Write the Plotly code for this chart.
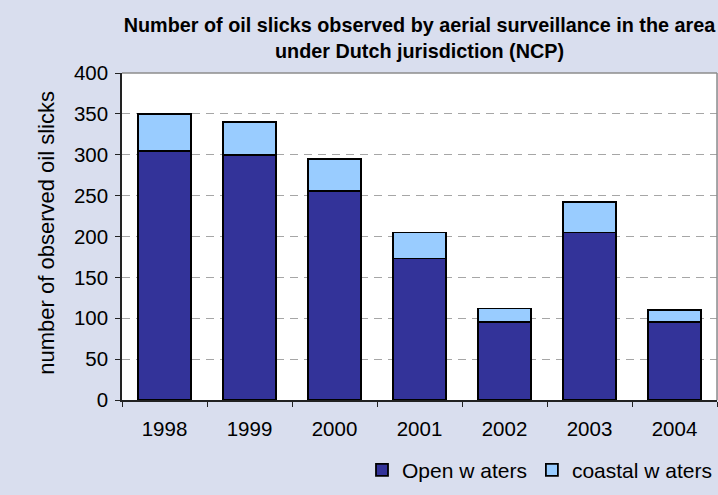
import plotly.graph_objects as go

years = ["1998", "1999", "2000", "2001", "2002", "2003", "2004"]
open_waters = [305, 300, 256, 173, 95, 205, 95]
coastal_waters = [45, 40, 39, 32, 17, 37, 15]

bg = "#D9DEEE"
font_family = "Liberation Sans, Arial, sans-serif"

fig = go.Figure()
fig.add_trace(go.Bar(
    x=years, y=open_waters, name="Open w aters",
    marker=dict(color="#333399", line=dict(color="black", width=1.8)),
))
fig.add_trace(go.Bar(
    x=years, y=coastal_waters, name="coastal w aters",
    marker=dict(color="#99CCFF", line=dict(color="black", width=1.8)),
))

fig.update_layout(
    width=718, height=495,
    barmode="stack", bargap=0.38,
    paper_bgcolor=bg, plot_bgcolor="white",
    margin=dict(l=122, r=1, t=73, b=95),
    font=dict(family=font_family, size=20, color="black"),
    title=dict(
        text="<b>Number of oil slicks observed by aerial surveillance in the area<br>under Dutch jurisdiction (NCP)</b>",
        x=0.5, xref="paper", xanchor="center",
        y=1 - 32 / 495, yref="container", yanchor="middle",
        font=dict(size=19.8, family=font_family, color="black"),
    ),
    showlegend=True,
    legend=dict(
        orientation="h", x=1.0, xanchor="right", y=-0.215, yanchor="middle",
        font=dict(size=21), bgcolor="rgba(0,0,0,0)", traceorder="normal",
        itemwidth=30,
    ),
)

fig.update_xaxes(
    showline=True, linecolor="#222222", linewidth=1.5,
    ticks="outside", ticklen=5, tickcolor="#222222", tickson="boundaries",
    ticklabelstandoff=10, showgrid=False,
    tickfont=dict(size=20.5),
)
fig.update_yaxes(
    range=[0, 400], dtick=50,
    showline=True, linecolor="#222222", linewidth=1.5,
    ticks="outside", ticklen=5, tickcolor="#222222",
    showgrid=True, gridcolor="#A6A6A6", griddash="8px,6px", gridwidth=1.2,
    zeroline=False, ticklabelstandoff=3,
    tickfont=dict(size=20.5),
)

# plot-area frame on the top and right sides
fig.add_shape(type="line", xref="paper", yref="paper", x0=0, x1=1, y0=1, y1=1,
              line=dict(color="#8C8C8C", width=1.5))
fig.add_shape(type="line", xref="paper", yref="paper", x0=1, x1=1, y0=0, y1=1,
              line=dict(color="#8C8C8C", width=1.5))

fig.add_annotation(
    text="number of observed oil slicks", textangle=-90,
    xref="paper", yref="paper", x=(32 - 122) / 595, y=0.51,
    showarrow=False, font=dict(size=22),
)

fig.write_html("out.html")
